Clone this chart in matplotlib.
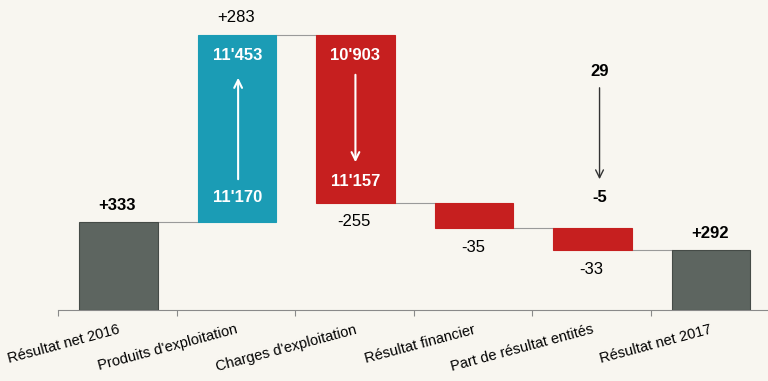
import matplotlib.pyplot as plt
from matplotlib.patches import FancyArrowPatch

# categories and displayed values
categories = ["Résultat net 2016", "Produits d'exploitation", "Charges d'exploitation",
              "Résultat financier", "Part de résultat entités", "Résultat net 2017"]
value_labels = ["+333", "+283", "-255", "-35", "-33", "+292"]
# bar extents as drawn (schematic scale)
bar_low = [0, 88, 107, 82, 60, 0]
bar_high = [88, 275, 275, 107, 82, 60]
kinds = ["total", "up", "down", "down", "down", "total"]

# detail inside the two operating bars: (start, end)
inner_from = ["11'170", "10'903"]
inner_to = ["11'453", "11'157"]
# extra note over "Part de résultat entités"
note_from, note_to = "29", "-5"

plt.rcParams['font.family'] = ['Liberation Sans', 'DejaVu Sans']
bg = '#f8f6f0'
colors = {"total": '#5d6560', "up": '#1b9cb5', "down": '#c61f1f'}

fig = plt.figure(figsize=(7.68, 3.81), dpi=100, facecolor=bg)
ax = fig.add_axes([58 / 768, 71 / 381, 711 / 768, 310 / 381])
ax.set_facecolor(bg)
ax.set_xlim(-0.5, 5.5)
ax.set_ylim(0, 310)

x = list(range(len(categories)))
w = 0.66
for i in x:
    ax.bar(i + 0.01, bar_high[i] - bar_low[i], bottom=bar_low[i], width=w,
           color=colors[kinds[i]],
           edgecolor='#454b47' if kinds[i] == "total" else colors[kinds[i]],
           linewidth=0.8, zorder=3)

# connectors between bars
levels = [bar_high[0], bar_high[1], bar_low[2], bar_low[3], bar_low[4]]
for i, lv in enumerate(levels):
    ax.plot([i + 0.01 + w / 2, i + 1.01 - w / 2], [lv, lv], color='#9a9a9a', lw=0.8, zorder=2)

# value labels
for i in x:
    if kinds[i] == "down":
        ax.text(i, bar_low[i] - 19, value_labels[i], ha='center', va='center', fontsize=12)
    else:
        bold = 'normal' if kinds[i] == "up" else 'bold'
        ax.text(i, bar_high[i] + 17, value_labels[i], ha='center', va='center',
                fontsize=12, fontweight=bold)

# inner labels and arrows
ax.text(1.02, bar_high[1] - 21, inner_to[0], ha='center', va='center', color='white',
        fontsize=12, fontweight='bold', zorder=4)
ax.text(1.02, bar_low[1] + 24, inner_from[0], ha='center', va='center', color='white',
        fontsize=12, fontweight='bold', zorder=4)
ax.add_patch(FancyArrowPatch((1.02, 128), (1.02, 235), arrowstyle='->', mutation_scale=14,
                             color='white', lw=1.5, zorder=4))
ax.text(2.01, bar_high[2] - 21, inner_from[1], ha='center', va='center', color='white',
        fontsize=12, fontweight='bold', zorder=4)
ax.text(2.01, bar_low[2] + 21, inner_to[1], ha='center', va='center', color='white',
        fontsize=12, fontweight='bold', zorder=4)
ax.add_patch(FancyArrowPatch((2.01, 238), (2.01, 145), arrowstyle='->', mutation_scale=14,
                             color='white', lw=1.5, zorder=4))

ax.text(4.07, 238, note_from, ha='center', va='center', fontsize=12, fontweight='bold')
ax.text(4.07, 113, note_to, ha='center', va='center', fontsize=12, fontweight='bold')
ax.add_patch(FancyArrowPatch((4.07, 225), (4.07, 128), arrowstyle='->', mutation_scale=14,
                             color='#333333', lw=1.0, zorder=4))

# axis
for s in ['top', 'right', 'left']:
    ax.spines[s].set_visible(False)
ax.spines['bottom'].set_color('#8a8a8a')
ax.spines['bottom'].set_linewidth(0.8)
ax.set_yticks([])
ax.set_xticks([i - 0.5 for i in range(len(categories) + 1)])
ax.set_xticklabels([])
ax.tick_params(axis='x', which='major', length=4, color='#8a8a8a', width=0.8)
ax.set_xticks(x, minor=True)
ax.set_xticklabels(categories, minor=True, rotation=15, ha='right',
                   rotation_mode='anchor', fontsize=10.5)
ax.tick_params(axis='x', which='minor', length=0, pad=9)

fig.savefig('out.png', dpi=100, facecolor=bg)
